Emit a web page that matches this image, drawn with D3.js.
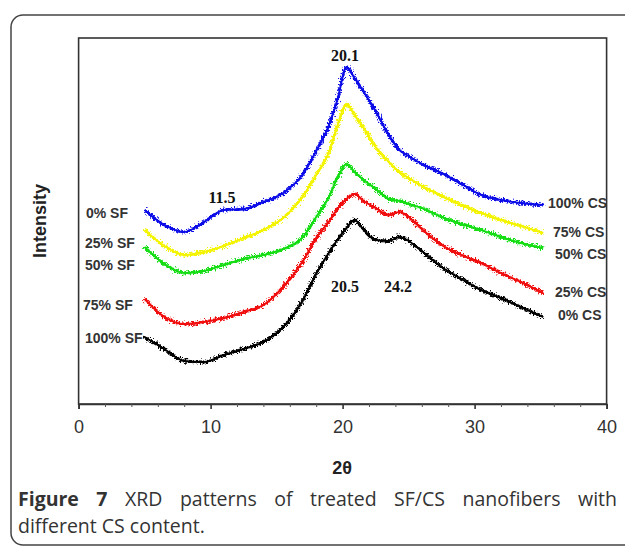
<!DOCTYPE html>
<html>
<head>
<meta charset="utf-8">
<script src="https://cdn.jsdelivr.net/npm/d3@7/dist/d3.min.js"></script>
<style>
  html, body { margin: 0; padding: 0; background: #fff; }
  svg { display: block; }
</style>
</head>
<body>
<svg id="chart" width="625" height="547"></svg>
<script>
// ---- data ----
const theta = [5, 6.5, 8, 9.5, 11, 12.5, 14, 15.5, 17, 18, 19, 19.6, 20.3, 20.9, 21.6, 22.5, 23.5, 24.3, 25, 26, 27.5, 29, 30.5, 32, 33.5, 35.2];
const cs100 = [194,179,172,182,194,195,202,211,230,253,280,304,337,326,312,293,269,254,248,240,231,220,209,204,201,199];
const cs75  = [174,158,149,152,158,166,174,186,208,229,253,278,300,289,276,257,242,232,226,218,208,199,191,184,178,171];
const cs50  = [157,140,131,133,139,145,149,155,167,187,208,226,240,232,224,215,205,203,200,196,187,180,174,167,161,156];
const cs25  = [105,87,80,82,86,92,99,117,143,166,183,195,205,210,203,196,189,192,187,175,159,149,141,131,122,111];
const cs0   = [67,55,43,42,49,55,62,77,104,130,152,164,176,184,174,164,163,167,163,153,137,125,114,106,97,87];
const leftLabels  = ["0% SF", "25% SF", "50% SF", "75% SF", "100% SF"];
const rightLabels = ["100% CS", "75% CS", "50% CS", "25% CS", "0% CS"];
const xTicks = [0, 10, 20, 30, 40];
const xMinorTicks = [2,4,6,8,12,14,16,18,22,24,26,28,32,34,36,38];
const peakLabels = ["20.1", "11.5", "20.5", "24.2"];

const series = [cs100, cs75, cs50, cs25, cs0];
const colors = ["#0a0ae8", "#f4f400", "#12dd12", "#f01010", "#000000"];

// ---- layout ----
const svg = d3.select("#chart");
const L = 78.6, R = 606.6, T = 38, B = 404;
const x = d3.scaleLinear().domain([0, 40]).range([L, R]);
const y = d3.scaleLinear().domain([0, 366]).range([B, T]);

// outer frame
svg.append("rect").attr("x", 11).attr("y", 15).attr("width", 640).attr("height", 530)
  .attr("rx", 12).attr("fill", "none").attr("stroke", "#444").attr("stroke-width", 1.5);

// noise filter (line texture only)
const defs = svg.append("defs");
const f = defs.append("filter").attr("id", "rough").attr("filterUnits", "userSpaceOnUse")
  .attr("x", 0).attr("y", 0).attr("width", 625).attr("height", 547);
f.append("feTurbulence").attr("type", "fractalNoise").attr("baseFrequency", "0.6").attr("numOctaves", 2).attr("seed", 5).attr("result", "n");
f.append("feDisplacementMap").attr("in", "SourceGraphic").attr("in2", "n").attr("scale", 8).attr("xChannelSelector", "R").attr("yChannelSelector", "G");

// plot box
svg.append("rect").attr("x", L).attr("y", T).attr("width", R - L).attr("height", B - T)
  .attr("fill", "none").attr("stroke", "#333").attr("stroke-width", 1.6);

// axes
const ax = svg.append("g").attr("transform", `translate(0,${B})`)
  .call(d3.axisBottom(x).tickValues(xTicks).tickSize(5).tickPadding(11).tickFormat(d3.format("d")));
ax.select(".domain").attr("stroke", "#333").attr("stroke-width", 1.6);
ax.selectAll(".tick line").attr("stroke", "#333").attr("stroke-width", 1.6);
ax.selectAll(".tick text").attr("font-family", "Arial, 'Liberation Sans', sans-serif").attr("font-size", 18).attr("fill", "#333");
const axm = svg.append("g").attr("transform", `translate(0,${B})`)
  .call(d3.axisBottom(x).tickValues(xMinorTicks).tickSize(3).tickFormat(""));
axm.select(".domain").remove();
axm.selectAll(".tick line").attr("stroke", "#555").attr("stroke-width", 1);

// lines: a solid core plus a roughened copy for the noisy texture
const line = d3.line().x((d, i) => x(theta[i])).y(d => y(d)).curve(d3.curveMonotoneX);
series.forEach((s, k) => {
  svg.append("path").datum(s).attr("d", line).attr("fill", "none")
    .attr("stroke", colors[k]).attr("stroke-width", 2).attr("stroke-linejoin", "round");
  svg.append("path").datum(s).attr("d", line).attr("fill", "none")
    .attr("stroke", colors[k]).attr("stroke-width", 3).attr("stroke-linejoin", "round")
    .attr("filter", "url(#rough)");
});

// series labels
const lab = "Arial, 'Liberation Sans', sans-serif";
const leftPos = [[86, 218], [85, 248], [85, 270], [83, 310], [85, 343]];
leftLabels.forEach((t, i) => svg.append("text").attr("x", leftPos[i][0]).attr("y", leftPos[i][1])
  .attr("font-family", lab).attr("font-weight", "bold").attr("font-size", 14).attr("fill", "#333").text(t));
const rightPos = [[548, 208], [553, 237], [555, 259], [555, 297], [558, 320]];
rightLabels.forEach((t, i) => svg.append("text").attr("x", rightPos[i][0]).attr("y", rightPos[i][1])
  .attr("font-family", lab).attr("font-weight", "bold").attr("font-size", 14).attr("fill", "#333").text(t));

// peak annotations
const peakXY = [[345, 61], [222, 203], [345, 292], [398, 292]];
peakLabels.forEach((t, i) => svg.append("text").attr("x", peakXY[i][0]).attr("y", peakXY[i][1])
  .attr("text-anchor", "middle").attr("font-family", "'Liberation Serif', 'Times New Roman', serif")
  .attr("font-weight", "bold").attr("font-size", 16).attr("fill", "#111").text(t));

// axis titles
svg.append("text").attr("x", 342).attr("y", 474).attr("text-anchor", "middle")
  .attr("font-family", lab).attr("font-weight", "bold").attr("font-size", 18).attr("fill", "#222").text("2θ");
svg.append("text").attr("transform", "translate(46,221) rotate(-90)").attr("text-anchor", "middle")
  .attr("font-family", lab).attr("font-weight", "bold").attr("font-size", 18).attr("fill", "#222").text("Intensity");

// caption (line 1 justified)
const capFont = "'Open Sans', 'Noto Sans', sans-serif";
const words = [["Figure", true], ["7", true], ["XRD", false], ["patterns", false], ["of", false], ["treated", false],
  ["SF/CS", false], ["nanofibers", false], ["with", false]];
const cx0 = 18, cx1 = 617, capSize = 19.5;
const tmp = [];
let total = 0;
words.forEach(([w, b]) => {
  const t = svg.append("text").attr("y", 506).attr("font-family", capFont).attr("font-size", capSize)
    .attr("font-weight", b ? "bold" : "normal").attr("fill", "#333").text(w);
  const wd = t.node().getComputedTextLength();
  tmp.push([t, wd]); total += wd;
});
const gap = (cx1 - cx0 - total) / (words.length - 1);
let cx = cx0;
tmp.forEach(([t, wd]) => { t.attr("x", cx); cx += wd + gap; });
svg.append("text").attr("x", cx0).attr("y", 533).attr("font-family", capFont).attr("font-size", capSize)
  .attr("fill", "#333").text("different CS content.");
</script>
</body>
</html>
